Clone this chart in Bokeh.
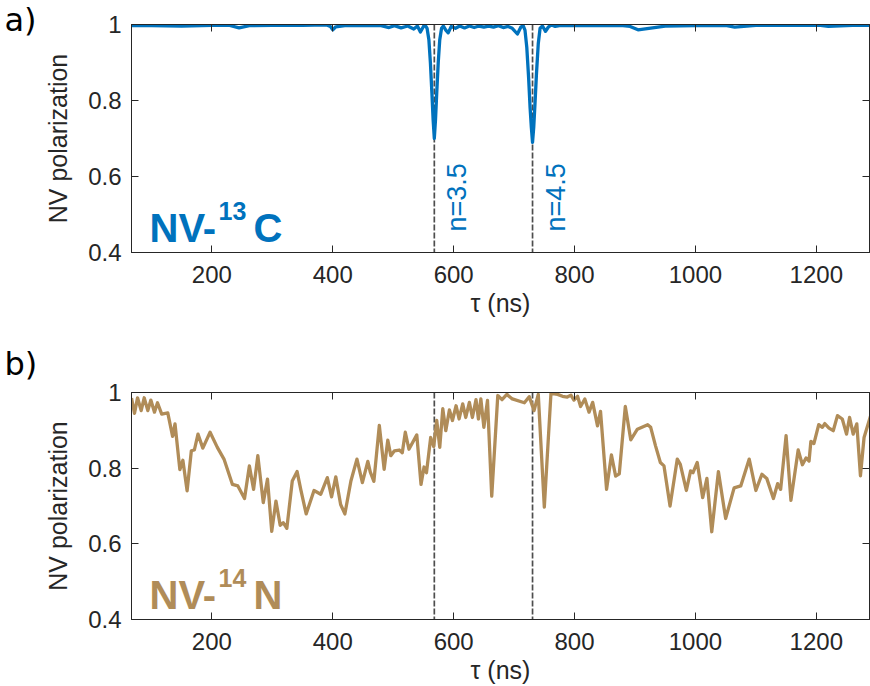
import math
from bokeh.plotting import figure
from bokeh.models import (Range1d, LinearAxis, Label, Span, FixedTicker,
                          CustomJSTickFormatter, Title)
from bokeh.layouts import column
from bokeh.embed import file_html
from bokeh.resources import INLINE

# ---------------- data ----------------
# resonance positions (ns) for n = 3.5 and n = 4.5
resonance_tau = [568, 730.5]
resonance_text = ["n=3.5", "n=4.5"]

# NV polarization vs tau for the 13C case
tau_c13 = [67, 100, 150, 200, 228, 245, 262, 300, 350, 390, 396, 400, 405, 420,
           450, 480, 493, 502, 513, 524, 534, 540, 545, 550, 553, 556, 559, 561.5,
           564, 566, 568, 570, 572, 574.5, 577, 580, 583, 587, 591, 596, 603, 610,
           618, 626, 634, 642, 650, 658, 666, 674, 682, 690, 697, 705.5, 711, 715,
           718, 721, 724, 726.5, 728.5, 730.5, 732.5, 734.5, 737, 740, 743, 747,
           752, 757, 762, 768, 775, 790, 820, 860, 880, 892, 905, 950, 1000, 1040,
           1052, 1065, 1100, 1150, 1195, 1207, 1220, 1260, 1290]
pol_c13 = [0.997, 0.997, 0.996, 0.998, 0.998, 0.991, 0.997, 0.998, 0.998, 0.999,
           0.995, 0.986, 0.994, 0.997, 0.998, 0.997, 0.992, 0.997, 0.991, 0.996,
           0.988, 0.996, 0.980, 0.995, 0.998, 0.990, 0.960, 0.900,
           0.820, 0.750, 0.700, 0.750, 0.820, 0.900, 0.960, 0.990, 0.996, 0.985,
           0.978, 0.995, 0.990, 0.996, 0.991, 0.996, 0.992, 0.996, 0.993, 0.996,
           0.993, 0.997, 0.992, 0.995, 0.990, 0.975, 0.993, 0.997,
           0.985, 0.940, 0.860, 0.780, 0.730, 0.690, 0.730, 0.790, 0.870, 0.950,
           0.990, 0.996, 0.982, 0.994, 0.999, 0.995, 0.997, 0.997, 0.997, 0.998,
           0.997, 0.995, 0.986, 0.996, 0.997, 0.998, 0.997, 0.993, 0.998, 0.998,
           0.998, 0.998, 0.995, 0.998, 0.998, 0.998]

# NV polarization vs tau for the 14N case
tau_n14 = [67, 72, 77, 83, 88, 94, 99, 105, 110, 117, 127, 135, 139, 147, 152,
           159, 166, 171, 177, 185, 197, 209, 220, 234, 243, 254, 262, 269, 276,
           285, 292, 299, 306, 313, 318, 324, 333, 341, 347, 356, 369, 380, 391,
           398, 405, 413, 420, 430, 440, 449, 458, 462, 468, 477, 485, 491, 496,
           502, 510, 515, 520, 526, 539, 546, 551, 555, 562, 567, 572, 577, 582,
           587, 593, 598, 604, 609, 615, 620, 626, 631, 637, 641, 645, 650, 656,
           663, 673, 680, 688, 697, 717, 725, 733, 740, 750, 761, 772, 780, 788,
           794, 799, 805, 810, 817, 824, 830, 838, 843, 853, 861, 868, 874, 884,
           893, 904, 921, 926, 934, 942, 948, 958, 970, 975, 985, 992, 996, 1003,
           1012, 1019, 1027, 1038, 1050, 1064, 1075, 1089, 1100, 1110, 1118, 1129,
           1136, 1141, 1150, 1158, 1170, 1177, 1183, 1188, 1191, 1196, 1204, 1210,
           1214, 1221, 1228, 1235, 1243, 1250, 1255, 1261, 1267, 1273, 1279, 1290]
pol_n14 = [0.985, 0.945, 0.986, 0.952, 0.986, 0.952, 0.980, 0.948, 0.973, 0.943,
           0.946, 0.884, 0.917, 0.796, 0.821, 0.740, 0.846, 0.848, 0.890, 0.853,
           0.895, 0.855, 0.824, 0.757, 0.753, 0.720, 0.806, 0.744, 0.833, 0.709,
           0.771, 0.633, 0.713, 0.649, 0.656, 0.641, 0.766, 0.791, 0.744, 0.679,
           0.741, 0.731, 0.775, 0.724, 0.777, 0.704, 0.679, 0.766, 0.824, 0.762,
           0.818, 0.790, 0.765, 0.913, 0.797, 0.874, 0.833, 0.846, 0.848, 0.841,
           0.895, 0.850, 0.888, 0.757, 0.803, 0.788, 0.881, 0.857, 0.926, 0.855,
           0.957, 0.899, 0.954, 0.926, 0.965, 0.930, 0.970, 0.934, 0.974, 0.934,
           0.981, 0.930, 0.983, 0.908, 0.979, 0.726, 0.992, 0.981, 0.995, 0.983,
           0.973, 0.989, 0.952, 0.995, 0.697, 0.998, 0.995, 0.990, 0.988, 0.993,
           0.980, 0.990, 0.963, 0.983, 0.948, 0.974, 0.912, 0.950, 0.744, 0.835,
           0.779, 0.785, 0.963, 0.875, 0.903, 0.915, 0.908, 0.859, 0.815, 0.806,
           0.700, 0.824, 0.810, 0.741, 0.793, 0.788, 0.815, 0.722, 0.773, 0.632,
           0.791, 0.667, 0.748, 0.753, 0.824, 0.741, 0.784, 0.773, 0.720, 0.759,
           0.744, 0.886, 0.715, 0.848, 0.809, 0.827, 0.819, 0.871, 0.865, 0.915,
           0.908, 0.918, 0.906, 0.899, 0.939, 0.930, 0.890, 0.934, 0.890, 0.917,
           0.780, 0.881, 0.939]

x_ticks = [200, 400, 600, 800, 1000, 1200]
y_ticks = [0.4, 0.6, 0.8, 1.0]
y_tick_labels = ["0.4", "0.6", "0.8", "1"]

# ---------------- styling ----------------
BLUE = "#0072BD"
BROWN = "#B08C58"
AXIS = "#262626"
TICK_FONT = "Liberation Sans"
X_RANGE = (67, 1288)


def make_panel(height, border_top, border_bottom, tau, pol, color,
               tag, tag_standoff, species, mass, show_n_labels):
    p = figure(width=870, height=height, output_backend="svg",
               toolbar_location=None, x_range=Range1d(*X_RANGE),
               y_range=Range1d(0.4, 1.0),
               min_border_left=131, min_border_right=1,
               min_border_top=border_top, min_border_bottom=border_bottom)
    p.grid.visible = False
    p.outline_line_color = AXIS
    p.outline_line_width = 1
    p.background_fill_color = "white"
    p.border_fill_color = "white"

    for ax in (p.xaxis[0], p.yaxis[0]):
        ax.axis_line_color = AXIS
        ax.major_tick_line_color = AXIS
        ax.major_tick_in = 7
        ax.major_tick_out = 0
        ax.minor_tick_line_color = None
        ax.major_label_text_font = TICK_FONT
        ax.major_label_text_font_size = "24px"
        ax.major_label_text_color = AXIS
        ax.axis_label_text_font = TICK_FONT
        ax.axis_label_text_font_size = "25px"
        ax.axis_label_text_font_style = "normal"
        ax.axis_label_text_color = AXIS

    p.xaxis[0].ticker = FixedTicker(ticks=x_ticks)
    p.xaxis[0].major_label_standoff = 13
    p.xaxis[0].axis_label = "τ (ns)"
    p.xaxis[0].axis_label_standoff = 3

    p.yaxis[0].ticker = FixedTicker(ticks=y_ticks)
    p.yaxis[0].major_label_overrides = dict(zip(y_ticks, y_tick_labels))
    p.yaxis[0].major_label_standoff = 10
    p.yaxis[0].axis_label = "NV polarization"
    p.yaxis[0].axis_label_standoff = 13

    # mirrored ticks on the top and right edges of the box
    blank = CustomJSTickFormatter(code="return ''")
    top = LinearAxis(ticker=FixedTicker(ticks=x_ticks), formatter=blank)
    right = LinearAxis(ticker=FixedTicker(ticks=y_ticks), formatter=blank)
    for ax in (top, right):
        ax.axis_line_color = AXIS
        ax.major_tick_line_color = AXIS
        ax.major_tick_in = 7
        ax.major_tick_out = 0
        ax.minor_tick_line_color = None
        ax.major_label_standoff = 0
        ax.major_label_text_font_size = "1px"
    p.add_layout(top, "above")
    p.add_layout(right, "right")

    # dashed markers at the resonances
    for loc in resonance_tau:
        p.add_layout(Span(location=loc, dimension="height", line_color="#4d4d4d",
                          line_width=1.7, line_dash="6 2", level="underlay"))

    p.line(tau, pol, line_color=color, line_width=3.3, line_join="round")

    # panel tag, e.g. "a)", in the top-left corner
    p.add_layout(Title(text=tag, align="left", offset=-127, standoff=tag_standoff,
                       text_font="DejaVu Sans", text_font_size="32px",
                       text_font_style="normal", text_color="black",
                       vertical_align="bottom"), "above")

    # species label NV-<mass><element>
    p.add_layout(Label(x=18, y=25, x_units="screen", y_units="screen",
                       text="NV-", text_font=TICK_FONT, text_font_style="bold",
                       text_font_size="40px", text_color=color,
                       text_baseline="alphabetic"))
    p.add_layout(Label(x=87, y=42, x_units="screen", y_units="screen",
                       text=mass, text_font=TICK_FONT, text_font_style="bold",
                       text_font_size="25px", text_color=color,
                       text_baseline="alphabetic"))
    p.add_layout(Label(x=122, y=25, x_units="screen", y_units="screen",
                       text=species, text_font=TICK_FONT, text_font_style="bold",
                       text_font_size="40px", text_color=color,
                       text_baseline="alphabetic"))

    if show_n_labels:
        for loc, txt in zip(resonance_tau, resonance_text):
            p.add_layout(Label(x=loc + 38, y=0.545, text=txt, angle=math.pi / 2,
                               text_font=TICK_FONT, text_font_size="27px",
                               text_color=BLUE, text_align="center",
                               text_baseline="middle"))
    return p


p1 = make_panel(330, 24, 78, tau_c13, pol_c13, BLUE, "a)", -28, "C", "13", True)
p2 = make_panel(356, 62, 67, tau_n14, pol_n14, BROWN, "b)", 20, "N", "14", False)

layout = column(p1, p2, spacing=0)
open("out.html", "w").write(file_html(layout, INLINE))
